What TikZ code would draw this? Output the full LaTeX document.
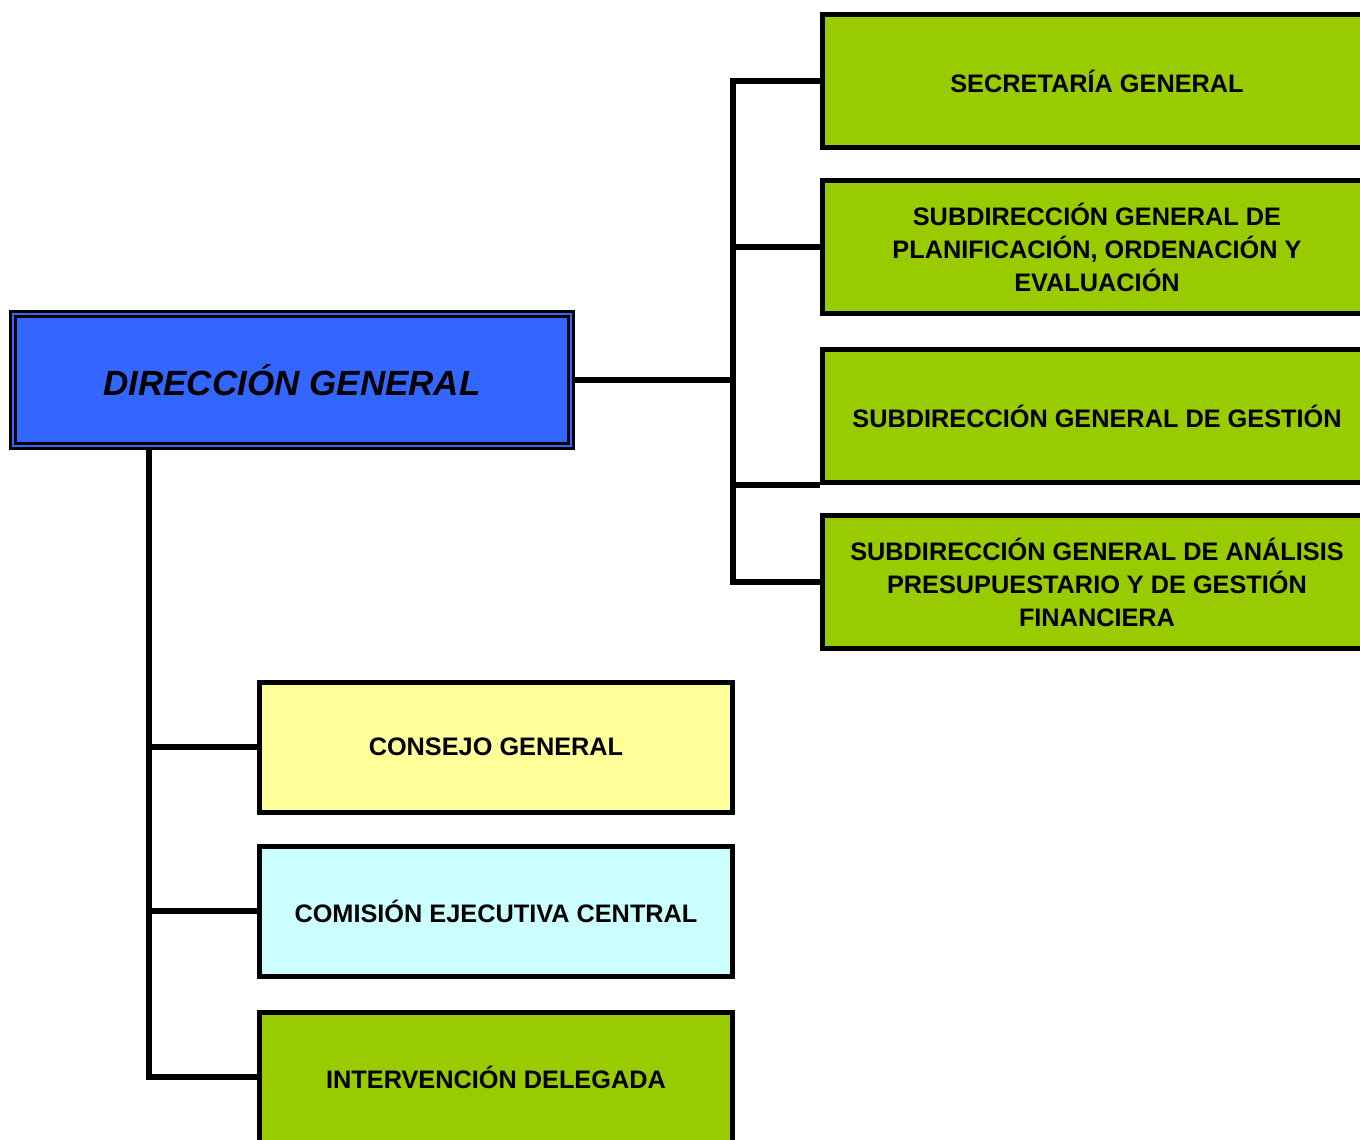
\documentclass[tikz,border=0pt]{standalone}
\usepackage{fontspec}
\setmainfont{Liberation Sans}
\definecolor{dgblue}{HTML}{3366FF}
\definecolor{subgreen}{HTML}{99CC00}
\definecolor{cgyellow}{HTML}{FFFF99}
\definecolor{cecyan}{HTML}{CCFFFF}
\tikzset{
	unitbox/.style={draw,line width=5pt,minimum height=133pt,align=center,
		font=\fontsize{25.3}{33}\selectfont\bfseries,inner sep=0pt},
	rightbox/.style={unitbox,fill=subgreen,minimum width=550pt},
	lowbox/.style={unitbox,minimum width=473pt,minimum height=130pt},
	conn/.style={line width=5.5pt}
}
\begin{document}
\begin{tikzpicture}[x=1pt,y=-1pt]
	\useasboundingbox (0,0) rectangle (1360,1140);
	% direccion general
	\node[draw,line width=2.5pt,double=dgblue,double distance=2.5pt,fill=dgblue,
		minimum width=558pt,minimum height=132pt,
		font=\fontsize{35}{40}\selectfont\bfseries\itshape] (dg) at (292,380) {DIRECCIÓN GENERAL};
	% subdirecciones
	\node[rightbox] (sg) at (1097,81) {SECRETARÍA GENERAL};
	\node[rightbox] (spl) at (1097,247) {SUBDIRECCIÓN GENERAL DE\\PLANIFICACIÓN, ORDENACIÓN Y\\EVALUACIÓN};
	\node[rightbox] (sge) at (1097,416) {SUBDIRECCIÓN GENERAL DE GESTIÓN};
	\node[rightbox] (san) at (1097,582) {SUBDIRECCIÓN GENERAL DE ANÁLISIS\\PRESUPUESTARIO Y DE GESTIÓN\\FINANCIERA};
	% organos
	\node[lowbox,fill=cgyellow] (cg) at (496,747) {CONSEJO GENERAL};
	\node[lowbox,fill=cecyan] (cec) at (496,911) {COMISIÓN EJECUTIVA CENTRAL};
	\node[lowbox,fill=subgreen] (id) at (496,1077) {INTERVENCIÓN DELEGADA};
	% lineas
	\coordinate (rbus) at (733,382);
	\coordinate (lbus) at (149,450);
	\draw[conn] (dg.east) -- (dg.east -| rbus);
	\draw[conn] (sg.west) -| (san.west -| rbus) -- (san.west);
	\draw[conn] (spl.west -| rbus) -- (spl.west);
	\draw[conn] (sge.south west -| rbus) -- (sge.south west);
	\draw[conn] (dg.south -| lbus) |- (id.west);
	\foreach \n in {cg,cec} {
		\draw[conn] (\n.west -| lbus) -- (\n.west);
	}
\end{tikzpicture}
\end{document}
